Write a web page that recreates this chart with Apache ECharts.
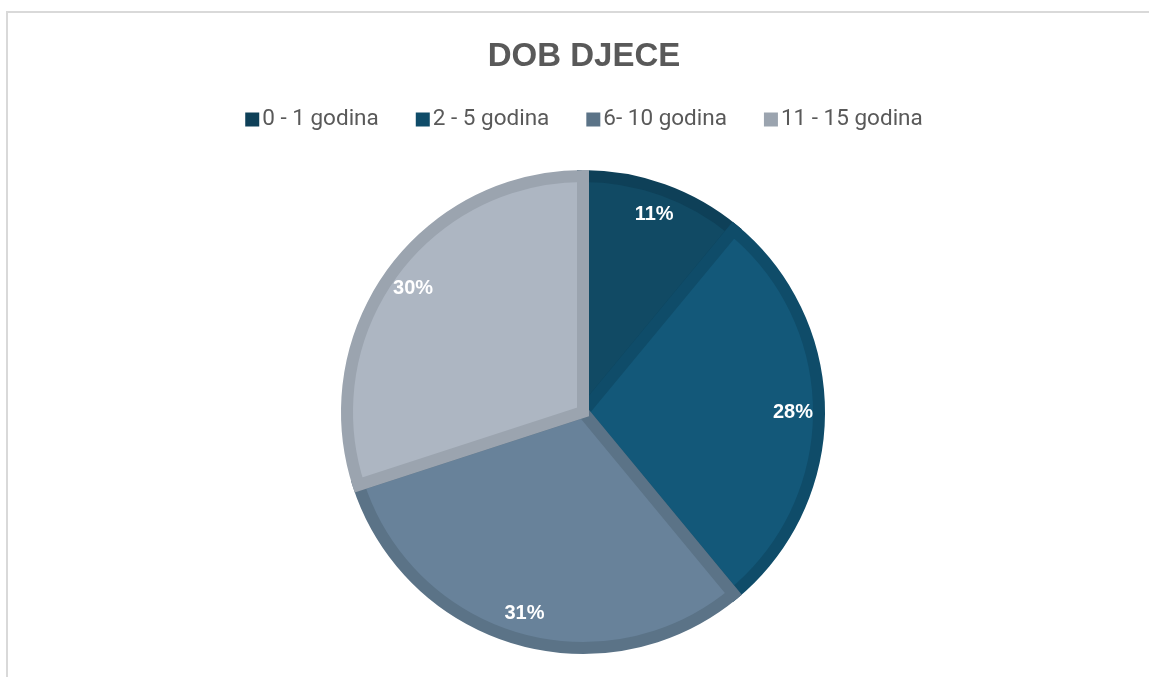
<!DOCTYPE html>
<html>
<head>
<meta charset="utf-8">
<script src="https://cdn.jsdelivr.net/npm/echarts@6/dist/echarts.min.js"></script>
<style>
  html, body { margin: 0; padding: 0; background: #fff; overflow: hidden; }
  #frame {
    position: absolute; left: 6px; top: 11px; width: 1160px; height: 700px;
    border-left: 2px solid #d9d9d9; border-top: 2px solid #d9d9d9;
  }
  #chart { position: absolute; left: 0; top: 0; width: 1168px; height: 677px; }
</style>
</head>
<body>
<div id="frame"></div>
<div id="chart"></div>
<script>
// podaci
const categories = ["0 - 1 godina", "2 - 5 godina", "6- 10 godina", "11 - 15 godina"];
const values = [11, 28, 31, 30];
const fillColors = ["#114a64", "#135879", "#68829a", "#adb6c2"];
const edgeColors = ["#0e4058", "#0f4c69", "#5b7387", "#9ba4af"];

const chart = echarts.init(document.getElementById("chart"));

const slices = categories.map((name, i) => ({
  name: name,
  value: values[i],
  itemStyle: { color: fillColors[i], borderColor: edgeColors[i] }
}));

chart.setOption({
  title: {
    text: "DOB DJECE",
    left: "center",
    top: 35,
    textStyle: {
      fontFamily: "Liberation Sans",
      fontSize: 33,
      fontWeight: "bold",
      color: "#595959"
    }
  },
  legend: {
    top: 103,
    left: "center",
    itemWidth: 14,
    itemHeight: 14,
    itemGap: 37,
    icon: "rect",
    data: categories.map((c, i) => ({ name: c, itemStyle: { color: edgeColors[i], borderWidth: 0 } })),
    textStyle: {
      fontFamily: "Roboto",
      fontSize: 22.5,
      color: "#595959",
      padding: [0, 0, 0, -2]
    }
  },
  series: [
    {
      type: "pie",
      center: [583, 412],
      radius: 236,
      startAngle: 90,
      clockwise: true,
      silent: true,
      label: { show: false },
      labelLine: { show: false },
      itemStyle: { borderWidth: 12, borderJoin: "miter", borderMiterLimit: 20 },
      emphasis: { disabled: true },
      data: slices
    },
    {
      // samo za oznake postotaka
      type: "pie",
      center: [583, 412],
      radius: [172, 242],
      startAngle: 90,
      clockwise: true,
      silent: true,
      itemStyle: { color: "rgba(0,0,0,0)" },
      emphasis: { disabled: true },
      label: {
        show: true,
        position: "inside",
        formatter: "{d}%",
        color: "#ffffff",
        fontFamily: "Liberation Sans",
        fontWeight: "bold",
        fontSize: 20
      },
      labelLine: { show: false },
      data: categories.map((c, i) => ({ name: c, value: values[i] }))
    }
  ]
});
</script>
</body>
</html>
